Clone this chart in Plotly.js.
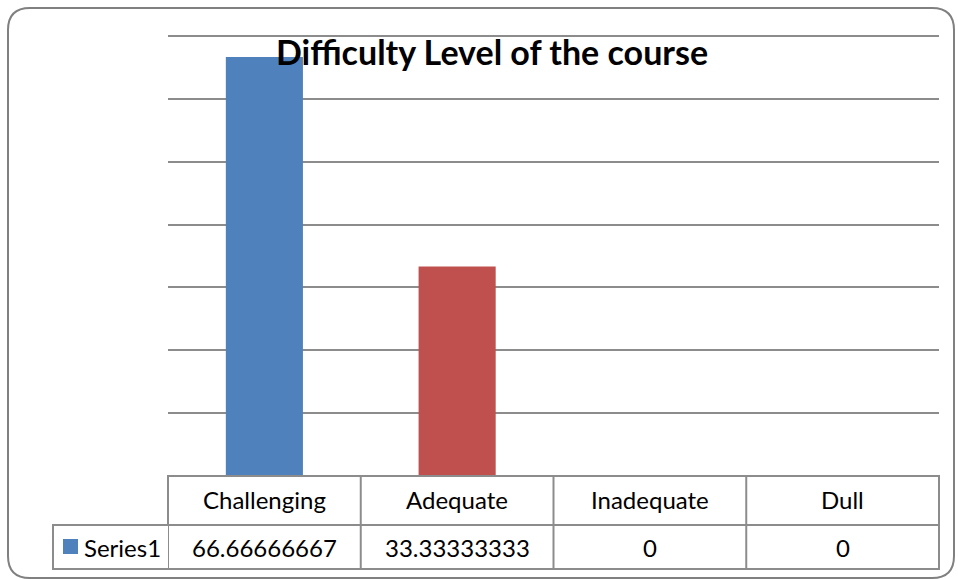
<!DOCTYPE html>
<html>
<head>
<meta charset="utf-8">
<script src="https://cdn.plot.ly/plotly-3.0.1.min.js"></script>
<style>
html,body{margin:0;padding:0;background:#fff;}
#chart{width:958px;height:579px;}
</style>
</head>
<body>
<div id="chart"></div>
<script>
// ---- data ----
const chartTitle = "Difficulty Level of the course";
const categories = ["Challenging", "Adequate", "Inadequate", "Dull"];
const seriesName = "Series1";
const values = [66.66666667, 33.33333333, 0, 0];
const barColors = ["#4F81BD", "#C0504D", "#9BBB59", "#8064A2"];
const yMax = 70;
const yStep = 10;

// ---- layout geometry (pixels) ----
const W = 958, H = 579;
const mL = 168, mR = 19, mT = 36, mB = 103;
const pw = W - mL - mR, ph = H - mT - mB;
const px = x => (x - mL) / pw;          // pixel x -> paper x
const py = y => (H - mB - y) / ph;      // pixel y -> paper y

const gridCol = "#8c8c8c";
const font = "Lato, 'Open Sans', sans-serif";
const txtSize = 24;

const shapes = [];
const annotations = [];

// top gridline (at yMax, on the plot edge)
shapes.push({type:"line", xref:"paper", yref:"paper", x0:0, x1:1, y0:1, y1:1,
  line:{color:gridCol, width:2}, layer:"below"});

// table header row and series row
const rowTop = 476, rowMid = 525, rowBot = 569, legLeft = 53;
shapes.push({type:"rect", xref:"paper", yref:"paper", x0:0, x1:1, y0:py(rowMid), y1:py(rowTop),
  line:{color:gridCol, width:2}, fillcolor:"rgba(0,0,0,0)", layer:"above"});
shapes.push({type:"rect", xref:"paper", yref:"paper", x0:px(legLeft), x1:1, y0:py(rowBot), y1:py(rowMid),
  line:{color:gridCol, width:2}, fillcolor:"rgba(0,0,0,0)", layer:"above"});
for (let i = 0; i <= categories.length; i++) {
  shapes.push({type:"line", xref:"x", yref:"paper", x0:i - 0.5, x1:i - 0.5, y0:py(rowBot), y1:py(rowTop),
    line:{color:gridCol, width:2}, layer:"above"});
}
// legend key
shapes.push({type:"rect", xref:"paper", yref:"paper", x0:px(63), x1:px(78), y0:py(554), y1:py(539),
  line:{width:0}, fillcolor:barColors[0], layer:"above"});
annotations.push({xref:"paper", yref:"paper", x:px(82), y:py(547), xanchor:"left", yanchor:"middle",
  text:seriesName, showarrow:false, font:{family:font, size:txtSize, color:"#000"}});

categories.forEach((c, i) => {
  annotations.push({xref:"x", yref:"paper", x:i, y:py(500), xanchor:"center", yanchor:"middle",
    text:c, showarrow:false, font:{family:font, size:txtSize, color:"#000"}});
  annotations.push({xref:"x", yref:"paper", x:i, y:py(547), xanchor:"center", yanchor:"middle",
    text:String(values[i]), showarrow:false, font:{family:font, size:txtSize, color:"#000"}});
});

// outer rounded border
const bx0 = px(8), bx1 = px(954), by0 = py(578), by1 = py(8);
const rx = 22 / pw, ry = 22 / ph;
const path = `M ${bx0+rx} ${by1} L ${bx1-rx} ${by1} Q ${bx1} ${by1} ${bx1} ${by1-ry} ` +
  `L ${bx1} ${by0+ry} Q ${bx1} ${by0} ${bx1-rx} ${by0} L ${bx0+rx} ${by0} ` +
  `Q ${bx0} ${by0} ${bx0} ${by0+ry} L ${bx0} ${by1-ry} Q ${bx0} ${by1} ${bx0+rx} ${by1} Z`;
shapes.push({type:"path", xref:"paper", yref:"paper", path:path,
  line:{color:"#808080", width:2}, fillcolor:"rgba(0,0,0,0)", layer:"below"});

const trace = {
  type:"bar", x:categories, y:values, name:seriesName,
  marker:{color:values.map((v, i) => barColors[i]), line:{width:0}},
  hoverinfo:"x+y"
};

const layout = {
  width:W, height:H,
  margin:{l:mL, r:mR, t:mT, b:mB, pad:0},
  paper_bgcolor:"#fff", plot_bgcolor:"rgba(0,0,0,0)",
  showlegend:false,
  bargap:0.6,
  title:{text:"<b>" + chartTitle + "</b>", font:{family:font, size:34, color:"#000"},
    xref:"paper", x:px(492), xanchor:"center", yref:"container", y:1 - 53/H, yanchor:"middle"},
  xaxis:{type:"category", range:[-0.5, categories.length - 0.5], showticklabels:false,
    showgrid:false, zeroline:false, showline:false, ticks:""},
  yaxis:{range:[0, yMax], dtick:yStep, tick0:0, showticklabels:false, ticks:"",
    showgrid:true, gridcolor:gridCol, gridwidth:2, zeroline:false, showline:false},
  shapes:shapes,
  annotations:annotations
};

Plotly.newPlot("chart", [trace], layout, {displayModeBar:false, staticPlot:true});
</script>
</body>
</html>
